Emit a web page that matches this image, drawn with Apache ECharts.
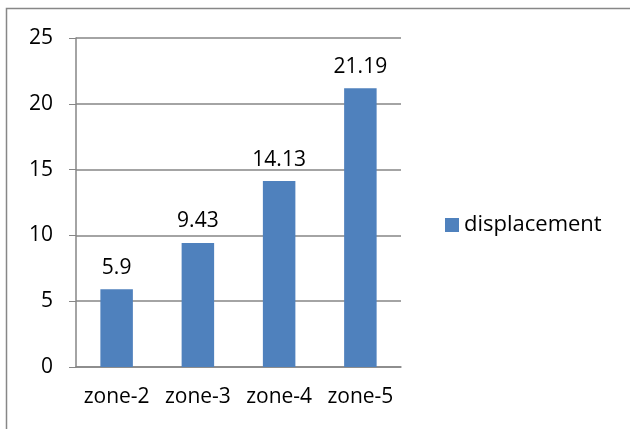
<!DOCTYPE html>
<html>
<head>
<meta charset="utf-8">
<script src="https://cdn.jsdelivr.net/npm/echarts@6/dist/echarts.min.js"></script>
<style>
  html, body { margin: 0; padding: 0; background: #fff; }
  #main { width: 630px; height: 429px; }
</style>
</head>
<body>
<div id="main"></div>
<script>
// data
var zones = ['zone-2', 'zone-3', 'zone-4', 'zone-5'];
var displacement = [5.9, 9.43, 14.13, 21.19];
var seriesName = 'displacement';

var myChart = echarts.init(document.getElementById('main'));
var txt = { fontFamily: 'Open Sans', fontSize: 21, color: '#000' };

var option = {
    backgroundColor: '#fff',
    animation: false,
    textStyle: txt,
    // chart area border (only left & top visible)
    graphic: [{
        type: 'rect',
        shape: { x: 6.5, y: 8.5, width: 700, height: 500 },
        style: { fill: 'none', stroke: '#878787', lineWidth: 1.5 }
    }],
    grid: { left: 76, right: 229, top: 38, bottom: 62 },
    legend: {
        data: [seriesName],
        orient: 'vertical',
        left: 440,
        top: 209,
        itemWidth: 14,
        itemHeight: 14,
        itemGap: 7,
        textStyle: Object.assign({}, txt, { fontSize: 22 }),
        icon: 'rect'
    },
    xAxis: {
        type: 'category',
        data: zones,
        axisLine: { lineStyle: { color: '#868686', width: 1.5 } },
        axisTick: { length: 7, lineStyle: { color: '#868686' } },
        axisLabel: Object.assign({ margin: 20, interval: 0 }, txt)
    },
    yAxis: {
        type: 'value',
        min: 0,
        max: 25,
        interval: 5,
        axisLine: { show: true, lineStyle: { color: '#868686', width: 1.5 } },
        axisTick: { show: true, length: 7, lineStyle: { color: '#868686' } },
        splitLine: { lineStyle: { color: '#868686', width: 1.5 } },
        axisLabel: Object.assign({ margin: 23 }, txt)
    },
    series: [{
        name: seriesName,
        type: 'bar',
        data: displacement,
        barWidth: '40%',
        itemStyle: { color: '#4f81bd' },
        label: Object.assign({ show: true, position: 'top', distance: 11 }, txt)
    }]
};
myChart.setOption(option);
</script>
</body>
</html>
